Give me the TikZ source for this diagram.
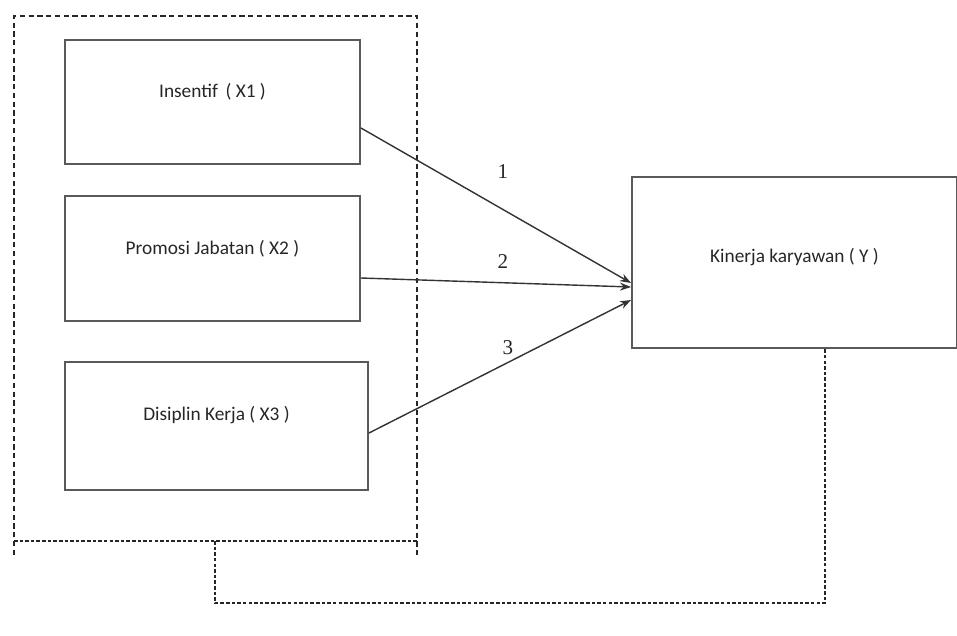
\documentclass[tikz,border=0pt]{standalone}
\usepackage{fontspec}
\setmainfont{Carlito}
\newfontfamily\numfont{Liberation Serif}
\usetikzlibrary{arrows.meta, calc}

\begin{document}
\begin{tikzpicture}[>={Stealth[length=2.2mm,width=1.6mm]}]
    \tikzset{
        varbox/.style={draw=black!65, line width=1.1pt, minimum height=2.5cm, text=black!85, font=\fontsize{11}{13}\selectfont},
        grpline/.style={draw=black!85, line width=0.7pt, dash pattern=on 3pt off 2pt},
        grpbase/.style={draw=black!85, line width=0.8pt, dash pattern=on 2pt off 1.2pt},
        link/.style={->, draw=black!80, line width=0.8pt},
        pathno/.style={font=\numfont\large, text=black!85}
    }
    \useasboundingbox (0,0) rectangle (19.14,-12.7);
    % Group frame
    \draw[grpline] (0.28,-11.1) -- (0.28,-0.32) -- (8.34,-0.32) -- (8.34,-11.1);
    \draw[grpbase] (0.28,-10.82) -- (8.34,-10.82);
    \coordinate (grpb) at (4.3,-10.82);
    % Variable boxes
    \node[varbox, minimum width=5.9cm, minimum height=2.48cm, text depth=0.45cm] (x1) at (4.25,-2.04) {Insentif \,( X1 )};
    \node[varbox, minimum width=5.9cm, text depth=0.45cm] (x2) at (4.25,-5.17) {Promosi Jabatan ( X2 )};
    \node[varbox, minimum width=6.06cm, minimum height=2.56cm, text depth=0.5cm] (x3) at (4.33,-8.52) {Disiplin Kerja ( X3 )};
    \node[varbox, minimum width=6.5cm, minimum height=3.42cm, text depth=0.3cm] (y) at (15.89,-5.25) {Kinerja karyawan ( Y )};
    % Paths
    \draw[link] ([yshift=-0.52cm]x1.east) -- ([yshift=-0.41cm]y.west);
    \draw[link] ([yshift=-0.39cm]x2.east) -- ([yshift=-0.49cm]y.west);
    \draw[link] ([yshift=-0.14cm]x3.east) -- ([yshift=-0.75cm]y.west);
    \node[pathno] (n1) at (10.06,-3.44) {1};
    \node[pathno] (n2) at (10.06,-5.24) {2};
    \node[pathno] (n3) at (10.16,-6.96) {3};
    % Simultaneous link
    \draw[grpbase] (grpb) -- ++(0,-1.24) -| ([xshift=0.61cm]y.south);
\end{tikzpicture}
\end{document}
